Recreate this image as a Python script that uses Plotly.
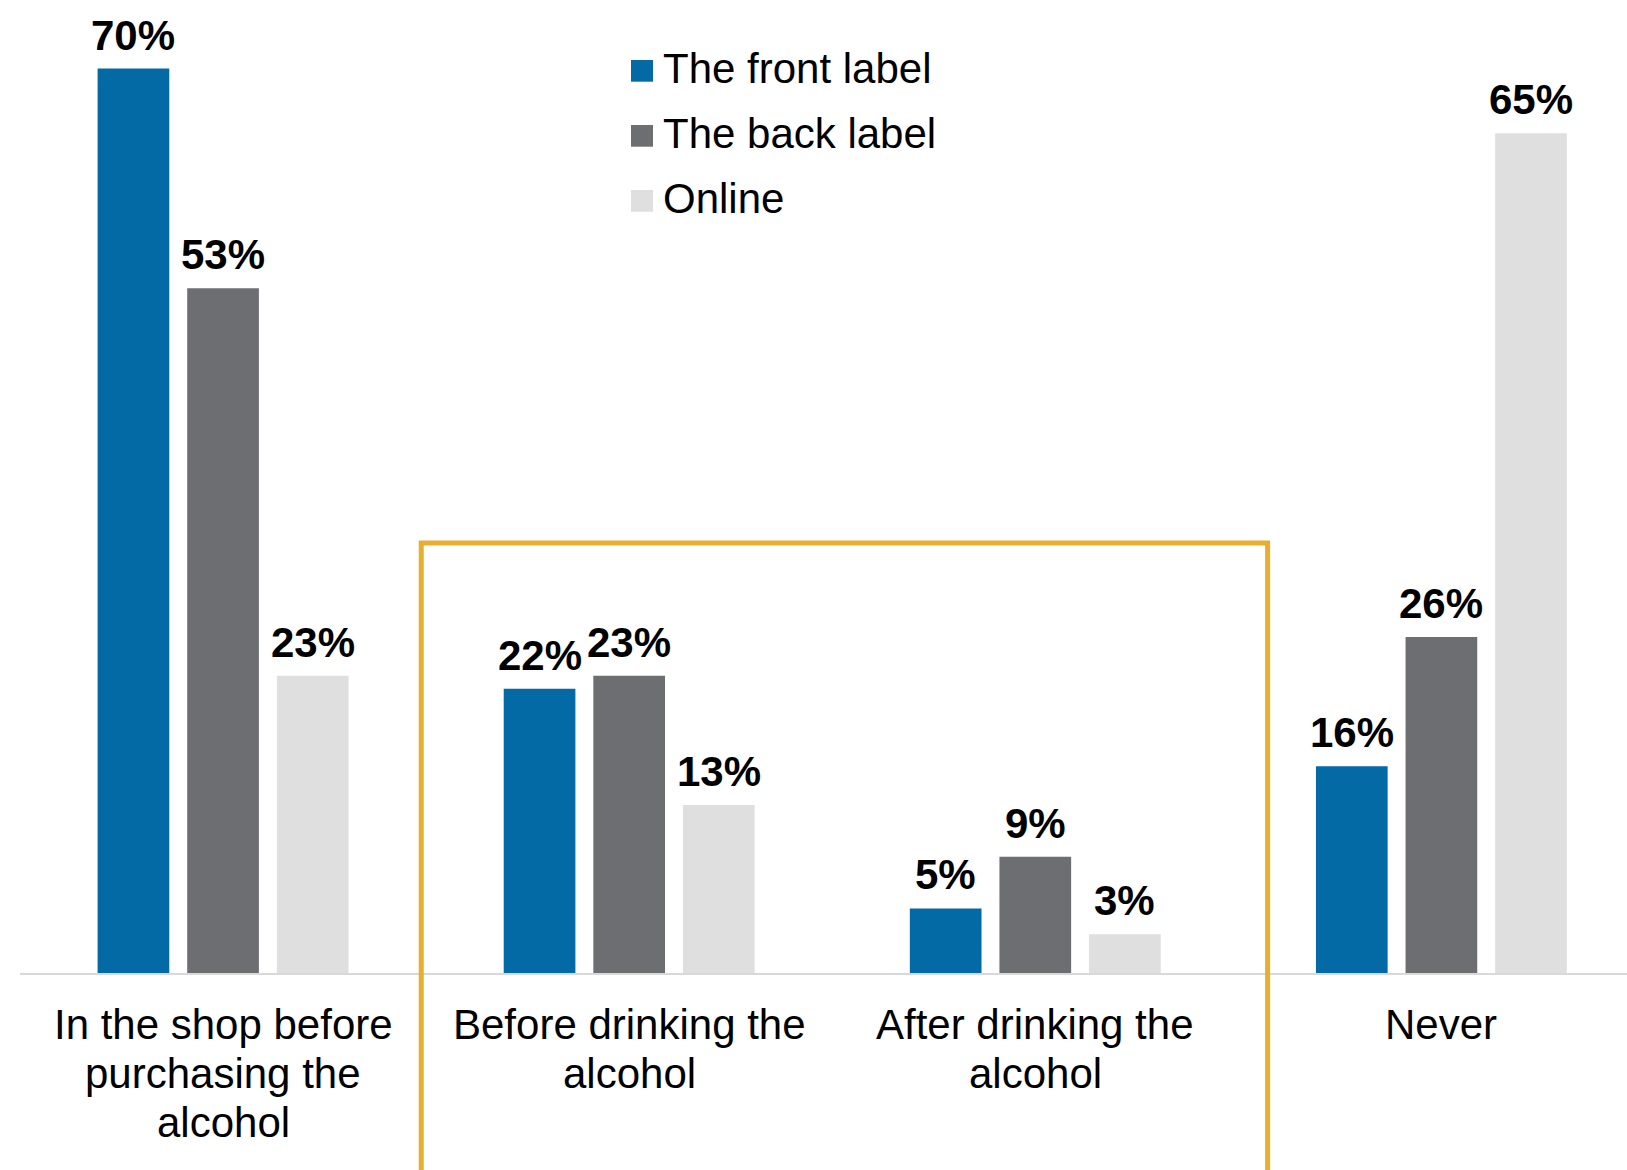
import plotly.graph_objects as go

categories = ["In the shop before<br>purchasing the<br>alcohol",
              "Before drinking the<br>alcohol",
              "After drinking the<br>alcohol",
              "Never"]
series_names = ["The front label", "The back label", "Online"]
front_label = [70, 22, 5, 16]
back_label = [53, 23, 9, 26]
online = [23, 13, 3, 65]
colors = ["#036AA5", "#6D6E71", "#DFDFDF"]

FONT = "Liberation Sans, Arial, sans-serif"
W, H = 1627, 1170
ML, MR, MT, MB = 20, 0, 4, 197
PW = W - ML - MR
PH = H - MT - MB
BASE = MT + PH
BARGAP = 0.338
BARGROUPGAP = 0.2


def px_x(p):
    return (p - ML) / PW


def px_y(p):
    return (BASE - p) / PH


xs = list(range(len(categories)))
all_series = [front_label, back_label, online]
fig = go.Figure()
for name, vals, col in zip(series_names, all_series, colors):
    fig.add_trace(go.Bar(
        x=xs, y=vals, name=name,
        marker=dict(color=col, line=dict(width=0)),
        showlegend=False,
        hoverinfo="skip",
    ))

shapes = []
annotations = []

# value labels above each bar, placed through the axes
n = len(all_series)
slot = (1 - BARGAP) / n
for k, vals in enumerate(all_series):
    off = -(1 - BARGAP) / 2 + slot * (k + 0.5)
    for i, v in enumerate(vals):
        annotations.append(dict(text=f"<b>{v}%</b>", xref="x", yref="y",
                                x=i + off, y=v, xanchor="center", yanchor="bottom",
                                yshift=8, showarrow=False,
                                font=dict(family=FONT, size=42, color="#000000")))

# manual legend
row_tops = [60, 125, 190]
text_centers = [68.5, 133.5, 198.5]
for name, col, top, tc in zip(series_names, colors, row_tops, text_centers):
    shapes.append(dict(type="rect", xref="paper", yref="paper",
                       x0=px_x(631), x1=px_x(653), y0=px_y(top + 21.7), y1=px_y(top),
                       fillcolor=col, line=dict(width=0)))
    annotations.append(dict(text=name, xref="paper", yref="paper",
                            x=px_x(661), y=px_y(tc), xanchor="left", yanchor="middle",
                            showarrow=False, font=dict(family=FONT, size=42, color="#000000")))

# category labels (one annotation per line for tighter line spacing)
for i, cat in enumerate(categories):
    for j, line in enumerate(cat.split("<br>")):
        annotations.append(dict(text=line, xref="x", yref="paper", x=i, y=0,
                                xanchor="center", yanchor="middle",
                                yshift=-51.7 - j * 48.8, showarrow=False,
                                font=dict(family=FONT, size=42, color="#000000")))

# highlight box around the two middle categories
shapes.append(dict(type="path", xref="x", yref="paper", layer="above",
                   path=f"M 0.488,-0.5 L 0.488,{px_y(543)} L 2.572,{px_y(543)} L 2.572,-0.5",
                   line=dict(color="#E8AE2E", width=5)))

fig.update_layout(
    width=W, height=H,
    margin=dict(l=ML, r=MR, t=MT, b=MB, pad=0),
    paper_bgcolor="white", plot_bgcolor="white",
    barmode="group", bargap=BARGAP, bargroupgap=BARGROUPGAP,
    font=dict(family=FONT, color="#000000"),
    xaxis=dict(range=[-0.5, 3.457], tickvals=xs, showticklabels=False,
               showgrid=False, zeroline=False, showline=True,
               linecolor="#D9D9D9", linewidth=2, ticks=""),
    yaxis=dict(range=[0, 75], visible=False, showgrid=False, zeroline=False),
    shapes=shapes,
    annotations=annotations,
    showlegend=False,
)

fig.write_html("out.html")
